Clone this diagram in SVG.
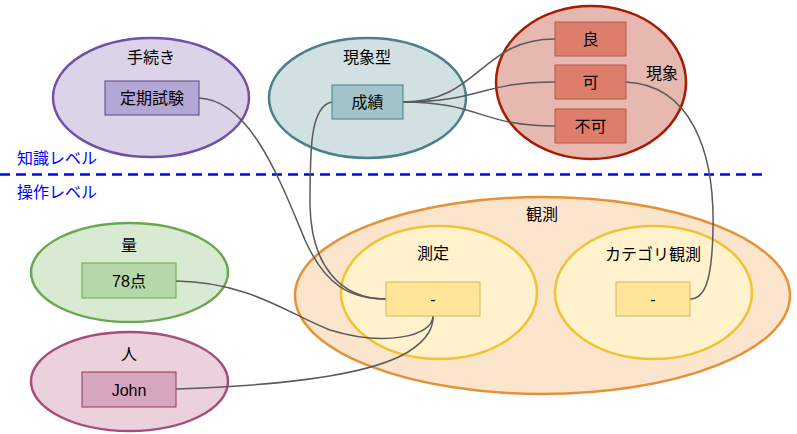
<svg xmlns="http://www.w3.org/2000/svg" width="797" height="434" viewBox="0 0 797 434">
<style>
text{font-family:"Liberation Sans","Noto Sans CJK JP",sans-serif;font-size:16px;fill:#000;text-anchor:middle;dominant-baseline:central}
.lv{fill:#0000ff;text-anchor:start}
.e{stroke-width:2.5}
.r{stroke-width:1}
.c{fill:none;stroke:#5a5a5a;stroke-width:1.5}
</style>
<rect width="797" height="434" fill="#fff"/>
<g id="procedure">
<ellipse class="e" cx="151" cy="97.5" rx="98" ry="59.5" fill="#dcd3e8" stroke="#6f52a8"/>
<text x="151" y="57">手続き</text>
</g>
<g id="phenomenon-type">
<ellipse class="e" cx="367.5" cy="98" rx="98.5" ry="60" fill="#d0e0e3" stroke="#4b7f8c"/>
<text x="367" y="57">現象型</text>
</g>
<g id="phenomenon">
<ellipse class="e" cx="591" cy="82.5" rx="95" ry="76.5" fill="#e6b8af" stroke="#a61c00"/>
<text x="662" y="73">現象</text>
</g>
<g id="quantity">
<ellipse class="e" cx="129.5" cy="272.5" rx="98.5" ry="49.5" fill="#d9ead3" stroke="#6aa84f"/>
<text x="129" y="245">量</text>
</g>
<g id="person">
<ellipse class="e" cx="129.5" cy="381.5" rx="98.5" ry="49.5" fill="#ead1dc" stroke="#a64d79"/>
<text x="129" y="354">人</text>
</g>
<g id="observation">
<ellipse class="e" cx="542.5" cy="295.5" rx="247.5" ry="98.5" fill="#fce5cd" stroke="#e69138"/>
<text x="542" y="214">観測</text>
</g>
<g id="measurement">
<ellipse class="e" cx="439" cy="292.5" rx="98" ry="66.5" fill="#fff2cc" stroke="#f1c232"/>
<text x="433" y="253">測定</text>
</g>
<g id="category-observation">
<ellipse class="e" cx="653.5" cy="292.5" rx="98.5" ry="66.5" fill="#fff2cc" stroke="#f1c232"/>
<text x="653" y="254">カテゴリ観測</text>
</g>
<g id="levels">
<line x1="0" y1="174.5" x2="765" y2="174.5" stroke="#0000ff" stroke-width="2.5" stroke-dasharray="10 6"/>
<text class="lv" x="17" y="158">知識レベル</text>
<text class="lv" x="17" y="192">操作レベル</text>
</g>
<g id="connectors">
<path class="c" d="M199,98 C250,100 280,180 305,240 C325,285 350,299 386,299"/>
<path class="c" d="M332,102 C310,106 310,150 310,205 C311,265 340,299 386,299"/>
<path class="c" d="M403,102 C480,102 480,39 555,39"/>
<path class="c" d="M403,102 C480,102 480,82 555,82"/>
<path class="c" d="M403,102 C480,102 480,126 555,126"/>
<path class="c" d="M626,82 C690,85 715,150 713,230 C712,280 705,299 690,299"/>
<path class="c" d="M176,281 C250,282 290,315 330,330 C385,347 433,336 433,316"/>
<path class="c" d="M176,389 C300,385 375,372 408,352 C430,338 433,326 433,316"/>
</g>
<g id="node-teiki">
<rect class="r" x="105" y="81" width="94" height="34" fill="#b4a7d6" stroke="#56457f"/>
<text x="152" y="98">定期試験</text>
</g>
<g id="node-seiseki">
<rect class="r" x="332" y="85" width="71" height="34" fill="#a2c4c9" stroke="#4b7f8c"/>
<text x="367.5" y="102">成績</text>
</g>
<g id="node-ryo">
<rect class="r" x="555" y="22" width="71" height="34" fill="#dd7e6b" stroke="#b85450"/>
<text x="590.5" y="39">良</text>
</g>
<g id="node-ka">
<rect class="r" x="555" y="65" width="71" height="34" fill="#dd7e6b" stroke="#b85450"/>
<text x="590.5" y="82">可</text>
</g>
<g id="node-fuka">
<rect class="r" x="555" y="109" width="71" height="34" fill="#dd7e6b" stroke="#b85450"/>
<text x="590.5" y="126">不可</text>
</g>
<g id="node-78">
<rect class="r" x="82" y="263" width="94" height="35" fill="#b6d7a8" stroke="#6aa84f"/>
<text x="129" y="281">78点</text>
</g>
<g id="node-john">
<rect class="r" x="82" y="372" width="94" height="35" fill="#d5a6bd" stroke="#8c3a63"/>
<text x="129" y="390">John</text>
</g>
<g id="node-meas">
<rect class="r" x="386" y="282" width="94" height="34" fill="#ffe599" stroke="#d6b656"/>
<text x="433" y="299">-</text>
</g>
<g id="node-cat">
<rect class="r" x="616" y="282" width="74" height="34" fill="#ffe599" stroke="#d6b656"/>
<text x="653" y="299">-</text>
</g>
</svg>
